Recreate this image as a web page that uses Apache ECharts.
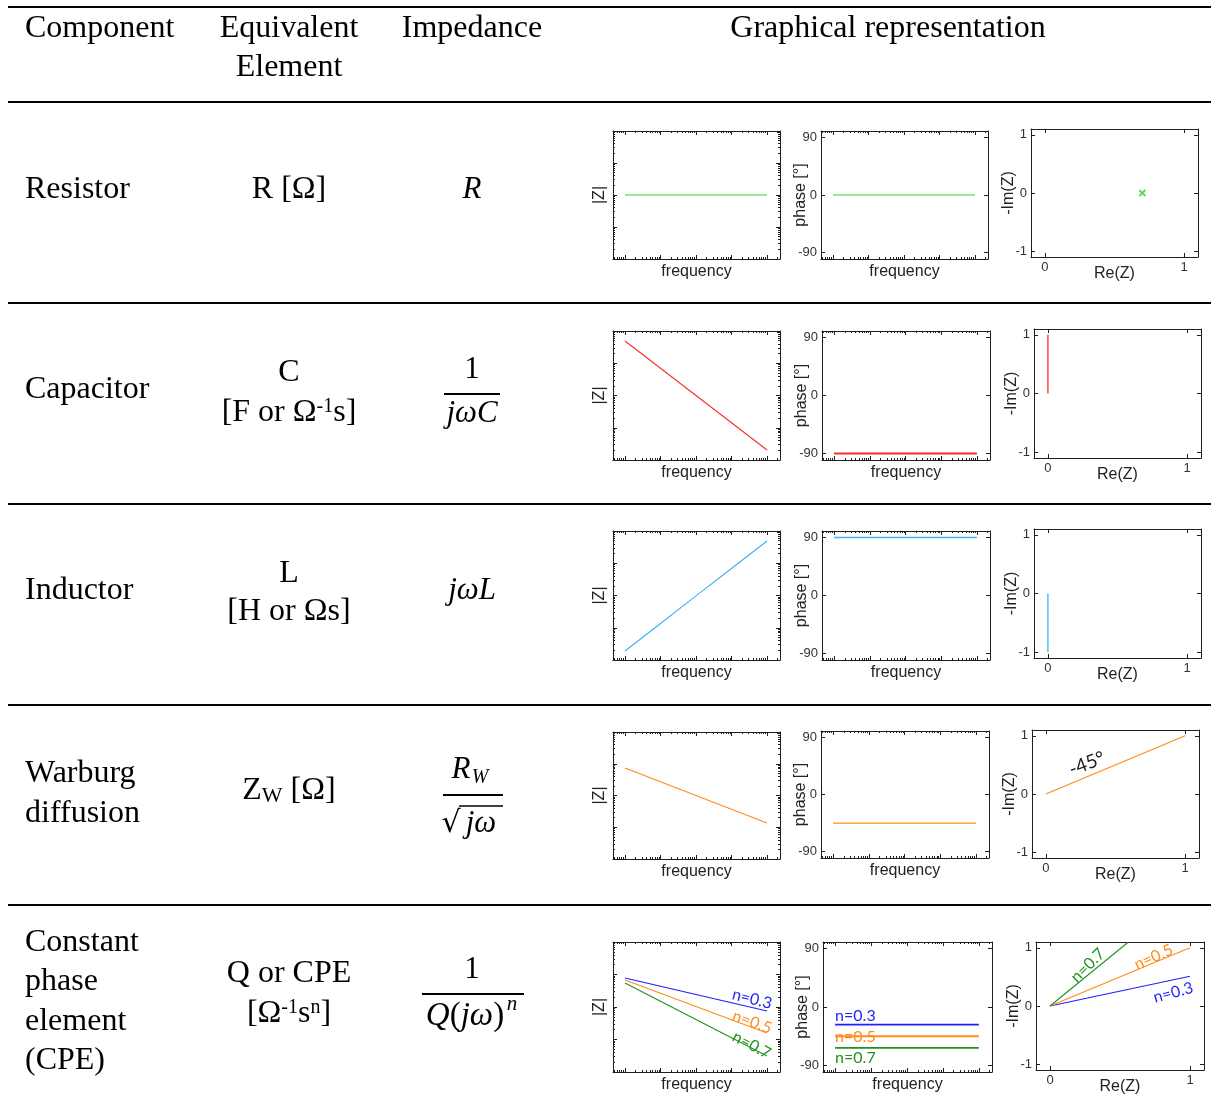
<!DOCTYPE html>
<html><head><meta charset="utf-8">
<script src="https://cdn.jsdelivr.net/npm/echarts@6/dist/echarts.min.js"></script>
<style>html,body{margin:0;padding:0;background:#fff}#c{width:1211px;height:1113px}</style>
</head><body><div id="c"></div>
<script>
// ---------------- DATA ----------------
const FREQ = [0.1, 1, 10, 100, 1000];
// |Z| (log)
const Z_RESISTOR  = [1, 1, 1, 1, 1];
const Z_CAPACITOR = [49, 7, 1, 0.143, 0.0204];
const Z_INDUCTOR  = [0.019, 0.136, 0.97, 6.9, 49];
const Z_WARBURG   = [7.4, 2.7, 1.0, 0.37, 0.135];
const Z_CPE_03    = [7.8, 4.35, 2.43, 1.35, 0.75];
const Z_CPE_05    = [6.8, 2.65, 1.04, 0.405, 0.158];
const Z_CPE_07    = [5.5, 1.5, 0.41, 0.113, 0.031];
// phase (deg)
const PH_RESISTOR  = [0, 0, 0, 0, 0];
const PH_CAPACITOR = [-90, -90, -90, -90, -90];
const PH_INDUCTOR  = [90, 90, 90, 90, 90];
const PH_WARBURG   = [-45, -45, -45, -45, -45];
const PH_CPE_03    = [-27, -27, -27, -27, -27];
const PH_CPE_05    = [-45, -45, -45, -45, -45];
const PH_CPE_07    = [-63, -63, -63, -63, -63];
// Nyquist [Re, -Im]
const NY_RESISTOR  = [[0.7, 0]];
const NY_CAPACITOR = [[0, 0], [0, 1]];
const NY_INDUCTOR  = [[0, 0], [0, -1]];
const NY_WARBURG   = [[0, 0], [1, 1]];
const NY_CPE_03    = [[0, 0], [1, 0.51]];
const NY_CPE_05    = [[0, 0], [1, 1]];
const NY_CPE_07    = [[0, 0], [0.56, 1.1]];
// tick values / labels
const PHASE_TICKS = [-90, 0, 90];
const NY_X_TICKS = [0, 1];
const NY_Y_TICKS = [-1, 0, 1];
const FREQ_MAJOR = [0.1, 1, 10, 100, 1000];
const Z_MAJOR = [0.1, 1, 10];
const CPE_LABELS = ['n=0.3', 'n=0.5', 'n=0.7'];

// ---------------- STYLE / LAYOUT ----------------
const F_MIN = 0.046, F_MAX = 2320, Z_MIN = 0.01, Z_MAX = 100;
const FRAME = '#1e1e1e';
const GREEN = '#2fd62f', RED = '#ff2a2a', LBLUE = '#3db3f5', ORANGE = '#ff8c1a';
const C_BLUE = '#1f1fff', C_ORANGE = '#ff8c1a', C_GREEN = '#1f931f';
const SANS = 'Liberation Sans', SERIF = 'Liberation Serif', NOTE = 'Lato';
const BOX = [
  [[613,131,780,259],[821,131,988,259],[1031,129,1198,257]],
  [[613,331,780,460],[822,331,990,460],[1034,329,1201,458]],
  [[613,531,780,660],[822,531,990,660],[1034,529,1201,658]],
  [[613,732,780,859],[821,731,989,858],[1032,730,1199,858]],
  [[613,942,780,1072],[823,942,992,1072],[1036,942,1204,1070]]
];

function minorsOf(lo, hi) {
  const out = [];
  for (let d = -3; d <= 4; d++) for (let k = 2; k <= 9; k++) {
    const v = +(k * Math.pow(10, d)).toPrecision(3);
    if (v > lo && v < hi) out.push(v);
  }
  return out;
}
const FREQ_MINOR = minorsOf(F_MIN, F_MAX);
const Z_MINOR = minorsOf(Z_MIN, Z_MAX);

const grids = [], xAxes = [], yAxes = [], series = [];
const nameStyle = {fontFamily: SANS, fontSize: 16, color: '#222'};
const labStyle = {fontFamily: SANS, fontSize: 13, color: '#333'};
const lineLS = {color: FRAME, width: 1};

function addGrid(b) {
  grids.push({left: b[0], top: b[1], width: b[2]-b[0], height: b[3]-b[1], containLabel: false, outerBoundsMode: 'none'});
  return grids.length - 1;
}
function base(o) { return Object.assign({splitLine: {show: false}, silent: true, axisPointer: {show: false},
  nameTextStyle: nameStyle, nameMoveOverlap: false}, o); }

function logAxes(list, gi, positions, min, max, major, minor, name, gap) {
  const first = list.length;
  positions.forEach((pos, k) => {
    list.push(base({type: 'log', logBase: 10, gridIndex: gi, position: pos, min, max,
      axisLine: {show: true, onZero: false, lineStyle: lineLS},
      axisTick: {show: true, inside: true, length: 4, customValues: major, lineStyle: lineLS},
      axisLabel: {show: false},
      name: k === 0 ? name : '', nameLocation: 'middle', nameGap: gap, nameRotate: list === yAxes ? 90 : 0}));
    list.push(base({type: 'log', logBase: 10, gridIndex: gi, position: pos, min, max,
      axisLine: {show: false, onZero: false},
      axisTick: {show: true, inside: true, length: 2, customValues: minor, lineStyle: lineLS},
      axisLabel: {show: false}}));
  });
  return first;
}
function valAxes(list, gi, positions, min, max, ticks, name, gap) {
  const first = list.length;
  positions.forEach((pos, k) => {
    list.push(base({type: 'value', gridIndex: gi, position: pos, min, max,
      axisLine: {show: true, onZero: false, lineStyle: lineLS},
      axisTick: {show: true, inside: true, length: 4, customValues: ticks, lineStyle: lineLS},
      axisLabel: k === 0 ? Object.assign({show: true, customValues: ticks, margin: 4}, labStyle) : {show: false},
      name: k === 0 ? name : '', nameLocation: 'middle', nameGap: gap, nameRotate: list === yAxes ? 90 : 0}));
  });
  return first;
}
function zip(xs, ys) { return xs.map((x, i) => [x, ys[i]]); }
function addLine(xi, yi, data, color, width) {
  series.push({type: 'line', xAxisIndex: xi, yAxisIndex: yi, data, symbol: 'none', silent: true,
    lineStyle: {color, width: width || 1.1}, z: 3, clip: true});
}

const AX = [];
BOX.forEach((row, r) => {
  const gz = addGrid(row[0]);
  const zx = logAxes(xAxes, gz, ['bottom', 'top'], F_MIN, F_MAX, FREQ_MAJOR, FREQ_MINOR, 'frequency', 5);
  const zy = logAxes(yAxes, gz, ['left', 'right'], Z_MIN, Z_MAX, Z_MAJOR, Z_MINOR, '|Z|', 5);
  const gp = addGrid(row[1]);
  const px = logAxes(xAxes, gp, ['bottom', 'top'], F_MIN, F_MAX, FREQ_MAJOR, FREQ_MINOR, 'frequency', 5);
  const py = valAxes(yAxes, gp, ['left', 'right'], -100, 100, PHASE_TICKS, 'phase [°]', 12);
  const gn = addGrid(row[2]);
  const nx = valAxes(xAxes, gn, ['bottom', 'top'], -0.1, 1.1, NY_X_TICKS, 'Re(Z)', 9);
  const ny = valAxes(yAxes, gn, ['left', 'right'], -1.1, 1.1, NY_Y_TICKS, '-Im(Z)', 14);
  AX.push({zx, zy, px, py, nx, ny});
});

// Row 1: resistor
addLine(AX[0].zx, AX[0].zy, zip(FREQ, Z_RESISTOR), GREEN);
addLine(AX[0].px, AX[0].py, zip(FREQ, PH_RESISTOR), GREEN);
series.push({type: 'scatter', xAxisIndex: AX[0].nx, yAxisIndex: AX[0].ny, data: NY_RESISTOR, silent: true,
  symbol: 'path://M0,0L10,10M10,0L0,10', symbolSize: 6,
  itemStyle: {color: 'rgba(0,0,0,0)', borderColor: GREEN, borderWidth: 2}, z: 4});
// Row 2: capacitor
addLine(AX[1].zx, AX[1].zy, zip(FREQ, Z_CAPACITOR), RED);
addLine(AX[1].px, AX[1].py, zip(FREQ, PH_CAPACITOR), RED, 2);
addLine(AX[1].nx, AX[1].ny, NY_CAPACITOR, RED, 1.3);
// Row 3: inductor
addLine(AX[2].zx, AX[2].zy, zip(FREQ, Z_INDUCTOR), LBLUE);
addLine(AX[2].px, AX[2].py, zip(FREQ, PH_INDUCTOR), LBLUE, 1.6);
addLine(AX[2].nx, AX[2].ny, NY_INDUCTOR, LBLUE, 1.3);
// Row 4: Warburg
addLine(AX[3].zx, AX[3].zy, zip(FREQ, Z_WARBURG), ORANGE);
addLine(AX[3].px, AX[3].py, zip(FREQ, PH_WARBURG), ORANGE, 1.3);
addLine(AX[3].nx, AX[3].ny, NY_WARBURG, ORANGE, 1.2);
// Row 5: CPE
[[Z_CPE_03, PH_CPE_03, NY_CPE_03, C_BLUE], [Z_CPE_05, PH_CPE_05, NY_CPE_05, C_ORANGE], [Z_CPE_07, PH_CPE_07, NY_CPE_07, C_GREEN]]
  .forEach(([z, p, n, c]) => {
    addLine(AX[4].zx, AX[4].zy, zip(FREQ, z), c);
    addLine(AX[4].px, AX[4].py, zip(FREQ, p), c, 1.8);
    addLine(AX[4].nx, AX[4].ny, n, c, 1.1);
  });

const chart = echarts.init(document.getElementById('c'), null, {renderer: 'canvas', width: 1211, height: 1113});
chart.setOption({animation: false, grid: grids, xAxis: xAxes, yAxis: yAxes, series});

// ---------------- TABLE TEXT ----------------
const FS = 32;
function T(text, x, y, o) {
  o = o || {};
  return {type: 'text', x, y, silent: true, style: Object.assign({text, fill: '#000',
    fontFamily: o.family || SERIF, fontSize: o.size || FS, fontStyle: o.italic ? 'italic' : 'normal',
    align: o.align || 'left', verticalAlign: 'middle'}, o.style || {})};
}
function L(x1, y1, x2, y2, w) {
  return {type: 'line', silent: true, shape: {x1, y1, x2, y2}, style: {stroke: '#000', lineWidth: w || 2}};
}
const sup = {fontFamily: SERIF, fontSize: 20, verticalAlign: 'top'};
const reg = {fontFamily: SERIF, fontSize: FS};
const MS = 31; // math size
const els = [
  L(8, 7, 1211, 7), L(8, 102, 1211, 102), L(8, 303, 1211, 303), L(8, 504, 1211, 504), L(8, 705, 1211, 705), L(8, 905, 1211, 905),
  T('Component', 25, 29), T('Equivalent', 289, 29, {align: 'center'}), T('Element', 289, 68, {align: 'center'}),
  T('Impedance', 472, 29, {align: 'center'}), T('Graphical representation', 888, 29, {align: 'center'}),
  T('Resistor', 25, 190), T('Capacitor', 25, 390), T('Inductor', 25, 591),
  T('Warburg', 25, 774), T('diffusion', 25, 814),
  T('Constant', 25, 943), T('phase', 25, 982), T('element', 25, 1022), T('(CPE)', 25, 1061),
  T('R [Ω]', 289, 190, {align: 'center'}),
  T('C', 289, 373, {align: 'center'}),
  T('', 289, 413, {align: 'center', style: {text: '{a|[F or Ω}{s|-1}{a|s]}', rich: {a: reg, s: sup}}}),
  T('L', 289, 574, {align: 'center'}),
  T('[H or Ωs]', 289, 612, {align: 'center'}),
  T('', 289, 791, {align: 'center', style: {text: '{a|Z}{b|W}{a| [Ω]}', rich: {a: Object.assign({verticalAlign: 'bottom'}, reg), b: {fontFamily: SERIF, fontSize: 22, verticalAlign: 'bottom'}}}}),
  T('Q or CPE', 289, 974, {align: 'center'}),
  T('', 289, 1014, {align: 'center', style: {text: '{a|[Ω}{s|-1}{a|s}{s|n}{a|]}', rich: {a: reg, s: sup}}}),
  // impedance formulas
  T('R', 472, 190, {align: 'center', italic: true, size: MS}),
  T('1', 472, 370, {align: 'center', size: MS}), L(444, 394, 500, 394, 2), T('jωC', 472, 414, {align: 'center', italic: true, size: MS}),
  T('jωL', 472, 591, {align: 'center', italic: true, size: MS}),
  T('R', 461, 770, {align: 'center', italic: true, size: MS}), T('W', 480, 778, {align: 'center', italic: true, size: 20}),
  L(443, 795, 503, 795, 2),
  T('√', 451, 824, {align: 'center', family: 'DejaVu Serif', size: 30}), L(459, 806, 503, 806, 1.6),
  T('jω', 481, 824, {align: 'center', italic: true, size: MS}),
  T('1', 472, 970, {align: 'center', size: MS}), L(422, 994, 524, 994, 2),
  T('', 465, 1016, {align: 'center', style: {text: '{i|Q}{a|(}{i|jω}{a|)}', rich: {i: {fontFamily: SERIF, fontSize: 33, fontStyle: 'italic'}, a: {fontFamily: SERIF, fontSize: 33}}}}),
  T('n', 512, 1004, {align: 'center', italic: true, size: 21})
];

// ---------------- ANNOTATIONS (data coords through the chart scales) ----------------
const NOTES = [
  {text: '-45°', ax: 3, k: 'n', at: [0.295, 0.52], rot: 21, color: '#222', size: 19},
  {text: CPE_LABELS[0], ax: 4, k: 'z', at: [380, 1.76], rot: -14, color: C_BLUE},
  {text: CPE_LABELS[1], ax: 4, k: 'z', at: [380, 0.345], rot: -20, color: C_ORANGE},
  {text: CPE_LABELS[2], ax: 4, k: 'z', at: [370, 0.068], rot: -28, color: C_GREEN},
  {text: CPE_LABELS[0], ax: 4, k: 'p', at: [0.1, -14], rot: 0, color: C_BLUE, align: 'left'},
  {text: CPE_LABELS[1], ax: 4, k: 'p', at: [0.1, -46], rot: 0, color: C_ORANGE, align: 'left'},
  {text: CPE_LABELS[2], ax: 4, k: 'p', at: [0.1, -78.5], rot: 0, color: C_GREEN, align: 'left'},
  {text: CPE_LABELS[2], ax: 4, k: 'n', at: [0.27, 0.70], rot: 45, color: C_GREEN},
  {text: CPE_LABELS[1], ax: 4, k: 'n', at: [0.74, 0.84], rot: 24, color: C_ORANGE},
  {text: CPE_LABELS[0], ax: 4, k: 'n', at: [0.88, 0.23], rot: 15, color: C_BLUE}
];
NOTES.forEach(n => {
  const a = AX[n.ax];
  const p = chart.convertToPixel({xAxisIndex: a[n.k + 'x'], yAxisIndex: a[n.k + 'y']}, n.at);
  els.push({type: 'text', x: p[0], y: p[1], rotation: n.rot * Math.PI / 180, silent: true,
    style: {text: n.text, fill: n.color, fontFamily: NOTE, fontSize: n.size || 16, align: n.align || 'center', verticalAlign: 'middle'}});
});
chart.setOption({graphic: {elements: els}});
</script></body></html>
